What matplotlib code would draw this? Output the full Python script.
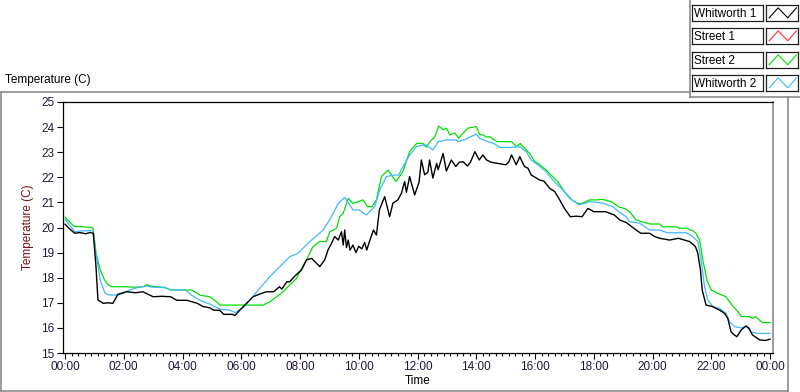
import matplotlib
matplotlib.use("Agg")
import matplotlib.pyplot as plt
from matplotlib.lines import Line2D
from matplotlib.ticker import MultipleLocator, FuncFormatter

# time in hours since midnight, temperature in C
whit1_h = [0.0, 0.15, 0.33, 0.5, 0.7, 0.85, 0.96, 1.05, 1.12, 1.2, 1.3, 1.45, 1.63, 1.8,
           2.1, 2.4, 2.65, 3.0, 3.3, 3.6, 3.8, 4.15, 4.5, 4.7, 4.93, 5.05, 5.27, 5.4, 5.7,
           5.78, 5.95, 6.18, 6.4, 6.63, 6.86, 7.1, 7.3, 7.38, 7.55, 7.65, 7.8, 8.05, 8.22,
           8.4, 8.67, 8.84, 8.95, 9.07, 9.18, 9.3, 9.41, 9.47, 9.52, 9.58, 9.64, 9.7, 9.8,
           9.9, 10.0, 10.1, 10.2, 10.27, 10.35, 10.5, 10.6, 10.7, 10.88, 10.95, 11.05,
           11.16, 11.33, 11.45, 11.56, 11.62, 11.73, 11.9, 12.05, 12.13, 12.24, 12.35,
           12.41, 12.52, 12.65, 12.7, 12.87, 12.98, 13.15, 13.3, 13.42, 13.55, 13.7, 13.8,
           13.95, 14.1, 14.22, 14.35, 14.5, 14.7, 15.0, 15.1, 15.2, 15.36, 15.48, 15.64,
           15.76, 15.87, 16.16, 16.3, 16.5, 16.67, 16.84, 17.0, 17.2, 17.4, 17.6, 17.8,
           18.0, 18.4, 18.7, 18.88, 19.1, 19.44, 19.6, 19.9, 20.07, 20.24, 20.58, 20.88,
           21.26, 21.46, 21.54, 21.63, 21.69, 21.82, 22.04, 22.28, 22.45, 22.56, 22.67,
           22.75, 22.87, 23.02, 23.18, 23.28, 23.4, 23.65, 23.85, 24.0]
whit1_t = [20.13, 19.95, 19.77, 19.8, 19.75, 19.8, 19.77, 18.5, 17.11, 17.05, 16.98, 17.0,
           16.98, 17.34, 17.44, 17.4, 17.44, 17.24, 17.26, 17.24, 17.1, 17.1, 16.98, 16.85,
           16.8, 16.71, 16.7, 16.54, 16.54, 16.49, 16.71, 16.98, 17.24, 17.35, 17.44, 17.44,
           17.64, 17.55, 17.84, 17.84, 18.04, 18.31, 18.71, 18.77, 18.44, 18.71, 19.1, 19.37,
           19.64, 19.5, 19.83, 19.3, 19.9, 19.2, 19.5, 19.1, 19.3, 19.0, 19.25, 19.15, 19.4,
           19.1, 19.4, 19.9, 19.7, 20.7, 21.23, 20.9, 20.43, 20.97, 21.1, 21.36, 21.83, 21.4,
           22.03, 21.3, 21.8, 22.69, 22.1, 22.2, 22.69, 21.97, 22.56, 22.3, 22.95, 22.25,
           22.69, 22.43, 22.6, 22.62, 22.45, 22.6, 23.02, 22.69, 22.89, 22.69, 22.6, 22.56,
           22.5, 22.6, 22.89, 22.5, 22.82, 22.43, 22.36, 22.09, 21.89, 21.85, 21.56, 21.43,
           21.1, 20.76, 20.43, 20.45, 20.43, 20.76, 20.63, 20.63, 20.5, 20.3, 20.2, 19.9,
           19.77, 19.77, 19.64, 19.57, 19.5, 19.57, 19.44, 19.24, 18.97, 18.31, 17.51, 16.91,
           16.85, 16.71, 16.58, 16.38, 15.85, 15.75, 15.65, 15.92, 16.08, 15.98, 15.72, 15.52,
           15.5, 15.55]

street2_h = [0.0, 0.3, 0.6, 0.9, 0.96, 1.05, 1.2, 1.35, 1.47, 1.6, 2.0, 2.4, 2.66, 2.78, 3.0,
             3.4, 3.6, 4.3, 4.5, 4.6, 4.93, 5.16, 5.27, 6.74, 6.97, 7.2, 7.42, 7.65, 7.88,
             7.99, 8.22, 8.44, 8.67, 8.9, 9.01, 9.24, 9.35, 9.47, 9.64, 9.8, 10.14, 10.3,
             10.45, 10.6, 10.77, 11.0, 11.26, 11.5, 11.73, 11.97, 12.18, 12.3, 12.41, 12.59,
             12.72, 12.87, 12.98, 13.1, 13.27, 13.4, 13.6, 13.72, 14.0, 14.12, 14.22, 14.35,
             14.46, 14.7, 15.2, 15.37, 15.5, 15.6, 15.82, 15.99, 16.1, 16.38, 16.6, 16.77,
             17.0, 17.23, 17.45, 17.6, 17.86, 18.1, 18.3, 18.6, 18.75, 18.88, 19.05, 19.22,
             19.44, 19.9, 20.24, 20.35, 20.8, 20.9, 21.15, 21.37, 21.48, 21.6, 21.71, 21.85,
             22.0, 22.22, 22.5, 22.73, 22.9, 23.03, 23.3, 23.4, 23.5, 23.64, 23.75, 24.0]
street2_t = [20.41, 20.05, 20.03, 20.0, 19.95, 19.0, 18.3, 17.9, 17.71, 17.64, 17.64, 17.62,
             17.64, 17.72, 17.65, 17.6, 17.51, 17.51, 17.38, 17.3, 17.24, 17.04, 16.91, 16.91,
             17.04, 17.24, 17.44, 17.71, 17.97, 18.24, 18.71, 19.24, 19.44, 19.44, 19.83,
             19.97, 20.43, 20.57, 21.16, 20.96, 21.1, 20.83, 20.83, 21.1, 22.03, 22.29, 21.83,
             22.23, 23.02, 23.35, 23.35, 23.2, 23.4, 23.62, 24.04, 23.9, 23.96, 23.69, 23.76,
             23.56, 23.82, 23.96, 24.02, 23.69, 23.69, 23.6, 23.62, 23.42, 23.42, 23.22, 23.35,
             23.2, 22.95, 22.62, 22.56, 22.29, 22.02, 21.83, 21.43, 21.12, 20.96, 20.96, 21.1,
             21.1, 21.12, 21.03, 20.9, 20.8, 20.76, 20.63, 20.3, 20.14, 20.14, 20.03, 20.03,
             19.97, 19.97, 19.87, 19.77, 19.5, 18.71, 17.91, 17.51, 17.38, 17.24, 16.87, 16.65,
             16.45, 16.45, 16.38, 16.45, 16.31, 16.21, 16.21]

whit2_h = [0.0, 0.33, 0.6, 0.95, 1.05, 1.2, 1.36, 1.5, 1.8, 2.0, 2.2, 2.45, 2.75, 3.0, 3.4,
           3.6, 4.1, 4.3, 4.59, 4.93, 5.27, 5.6, 5.8, 6.1, 6.58, 6.97, 7.31, 7.65, 7.93, 8.33,
           8.79, 9.07, 9.3, 9.52, 9.58, 9.8, 10.0, 10.26, 10.54, 10.71, 10.94, 11.2, 11.35,
           11.5, 11.73, 11.96, 12.18, 12.3, 12.52, 12.7, 12.98, 13.3, 13.4, 13.6, 14.0, 14.12,
           14.4, 14.6, 14.8, 15.2, 15.48, 15.7, 15.87, 16.1, 16.38, 16.6, 16.95, 17.18, 17.5,
           17.86, 18.3, 18.65, 18.88, 19.1, 19.22, 19.56, 19.9, 20.24, 20.5, 21.15, 21.37,
           21.54, 21.65, 21.77, 21.88, 22.05, 22.28, 22.5, 22.62, 22.79, 23.0, 23.2, 23.3,
           23.35, 23.55, 24.0]
whit2_t = [20.33, 19.83, 19.87, 19.87, 19.0, 17.9, 17.38, 17.31, 17.31, 17.4, 17.51, 17.6,
           17.67, 17.62, 17.62, 17.51, 17.51, 17.31, 17.1, 16.95, 16.75, 16.71, 16.61, 16.85,
           17.51, 18.04, 18.44, 18.84, 18.97, 19.44, 19.9, 20.43, 20.96, 21.2, 21.1, 20.7,
           20.7, 20.5, 20.83, 21.49, 22.03, 22.09, 22.09, 22.42, 22.89, 23.22, 23.29, 23.29,
           23.09, 23.42, 23.49, 23.49, 23.42, 23.5, 23.72, 23.55, 23.42, 23.35, 23.19, 23.19,
           23.22, 23.02, 22.69, 22.49, 22.22, 21.89, 21.49, 21.16, 20.9, 21.03, 20.97, 20.83,
           20.6, 20.43, 20.23, 20.17, 19.9, 19.9, 19.79, 19.79, 19.64, 19.44, 18.71, 17.64,
           17.11, 16.85, 16.78, 16.58, 16.25, 16.05, 16.0, 16.05, 15.98, 15.85, 15.78, 15.78]

street1_h = []
street1_t = []

series_names = ["Whitworth 1", "Street 1", "Street 2", "Whitworth 2"]
series_colors = ["#000000", "#ff3030", "#00e000", "#40b8ff"]

W, H = 800, 392
plt.rcParams["font.family"] = ["Liberation Sans", "DejaVu Sans"]
fig = plt.figure(figsize=(W / 100, H / 100), dpi=100)


def px(x, y):
    return x / W, 1 - y / H


ax = fig.add_axes([63 / W, 1 - 353 / H, 710 / W, 251 / H])
ax.plot(whit1_h, whit1_t, color=series_colors[0], lw=1.0, zorder=5)
ax.plot(street1_h, street1_t, color=series_colors[1], lw=0.9, zorder=2)
ax.plot(street2_h, street2_t, color=series_colors[2], lw=0.9, zorder=3)
ax.plot(whit2_h, whit2_t, color=series_colors[3], lw=0.9, zorder=4)

ax.set_xlim(-0.07, 24.1)
ax.set_ylim(15, 25)
ax.xaxis.set_major_locator(MultipleLocator(2))
ax.xaxis.set_minor_locator(MultipleLocator(2 / 9))
ax.xaxis.set_major_formatter(FuncFormatter(lambda v, p: "%02d:00" % (int(round(v)) % 24)))
ax.yaxis.set_major_locator(MultipleLocator(1))
ax.tick_params(axis="both", which="major", length=4, width=0.8, labelsize=8.5, pad=2,
               colors="#000000", labelcolor="#1a1a40")
ax.tick_params(axis="x", which="minor", length=2.5, width=0.8)
for side in ["top", "left", "bottom"]:
    ax.spines[side].set_color("#000000")
    ax.spines[side].set_linewidth(0.9)
ax.spines["right"].set_color("#8c8c8c")
ax.spines["right"].set_linewidth(1.2)

ax.set_xlabel("Time", fontsize=8.5, labelpad=1)
ax.set_ylabel("Temperature (C)", fontsize=8.5, color="#7a1010", labelpad=5)

# outer frame of the chart
gray = "#8c8c8c"
frame = [((0.5, 91.5), (689.5, 91.5)), ((0.5, 91.5), (0.5, 391)),
         ((0.5, 390.5), (787.5, 390.5)), ((787.5, 97), (787.5, 390.5)),
         ((689.5, 0), (689.5, 97)), ((689.5, 96.5), (800, 96.5))]
for (x0, y0), (x1, y1) in frame:
    a, b = px(x0, y0)
    c, d = px(x1, y1)
    fig.add_artist(Line2D([a, c], [b, d], color=gray, lw=1.2, transform=fig.transFigure))

fig.text(*px(5, 80), "Temperature (C)", fontsize=8.5, va="center", ha="left")

# legend boxes
row_top = [5, 28, 52, 75]
for name, color, y in zip(series_names, series_colors, row_top):
    lab = fig.add_axes([692 / W, 1 - (y + 16) / H, 71 / W, 16 / H])
    lab.set_xticks([])
    lab.set_yticks([])
    for s in lab.spines.values():
        s.set_color("#202020")
        s.set_linewidth(0.9)
    lab.text(0.03, 0.45, name, fontsize=8.5, va="center", ha="left", transform=lab.transAxes)
    sw = fig.add_axes([766 / W, 1 - (y + 16) / H, 32 / W, 16 / H])
    sw.set_xticks([])
    sw.set_yticks([])
    for s in sw.spines.values():
        s.set_color("#202020")
        s.set_linewidth(0.9)
    sw.set_xlim(0, 1)
    sw.set_ylim(0, 1)
    sw.plot([0.1, 0.38, 0.68, 0.95], [0.2, 0.82, 0.2, 0.82], color=color, lw=0.8)

fig.savefig("out.png", dpi=100)
